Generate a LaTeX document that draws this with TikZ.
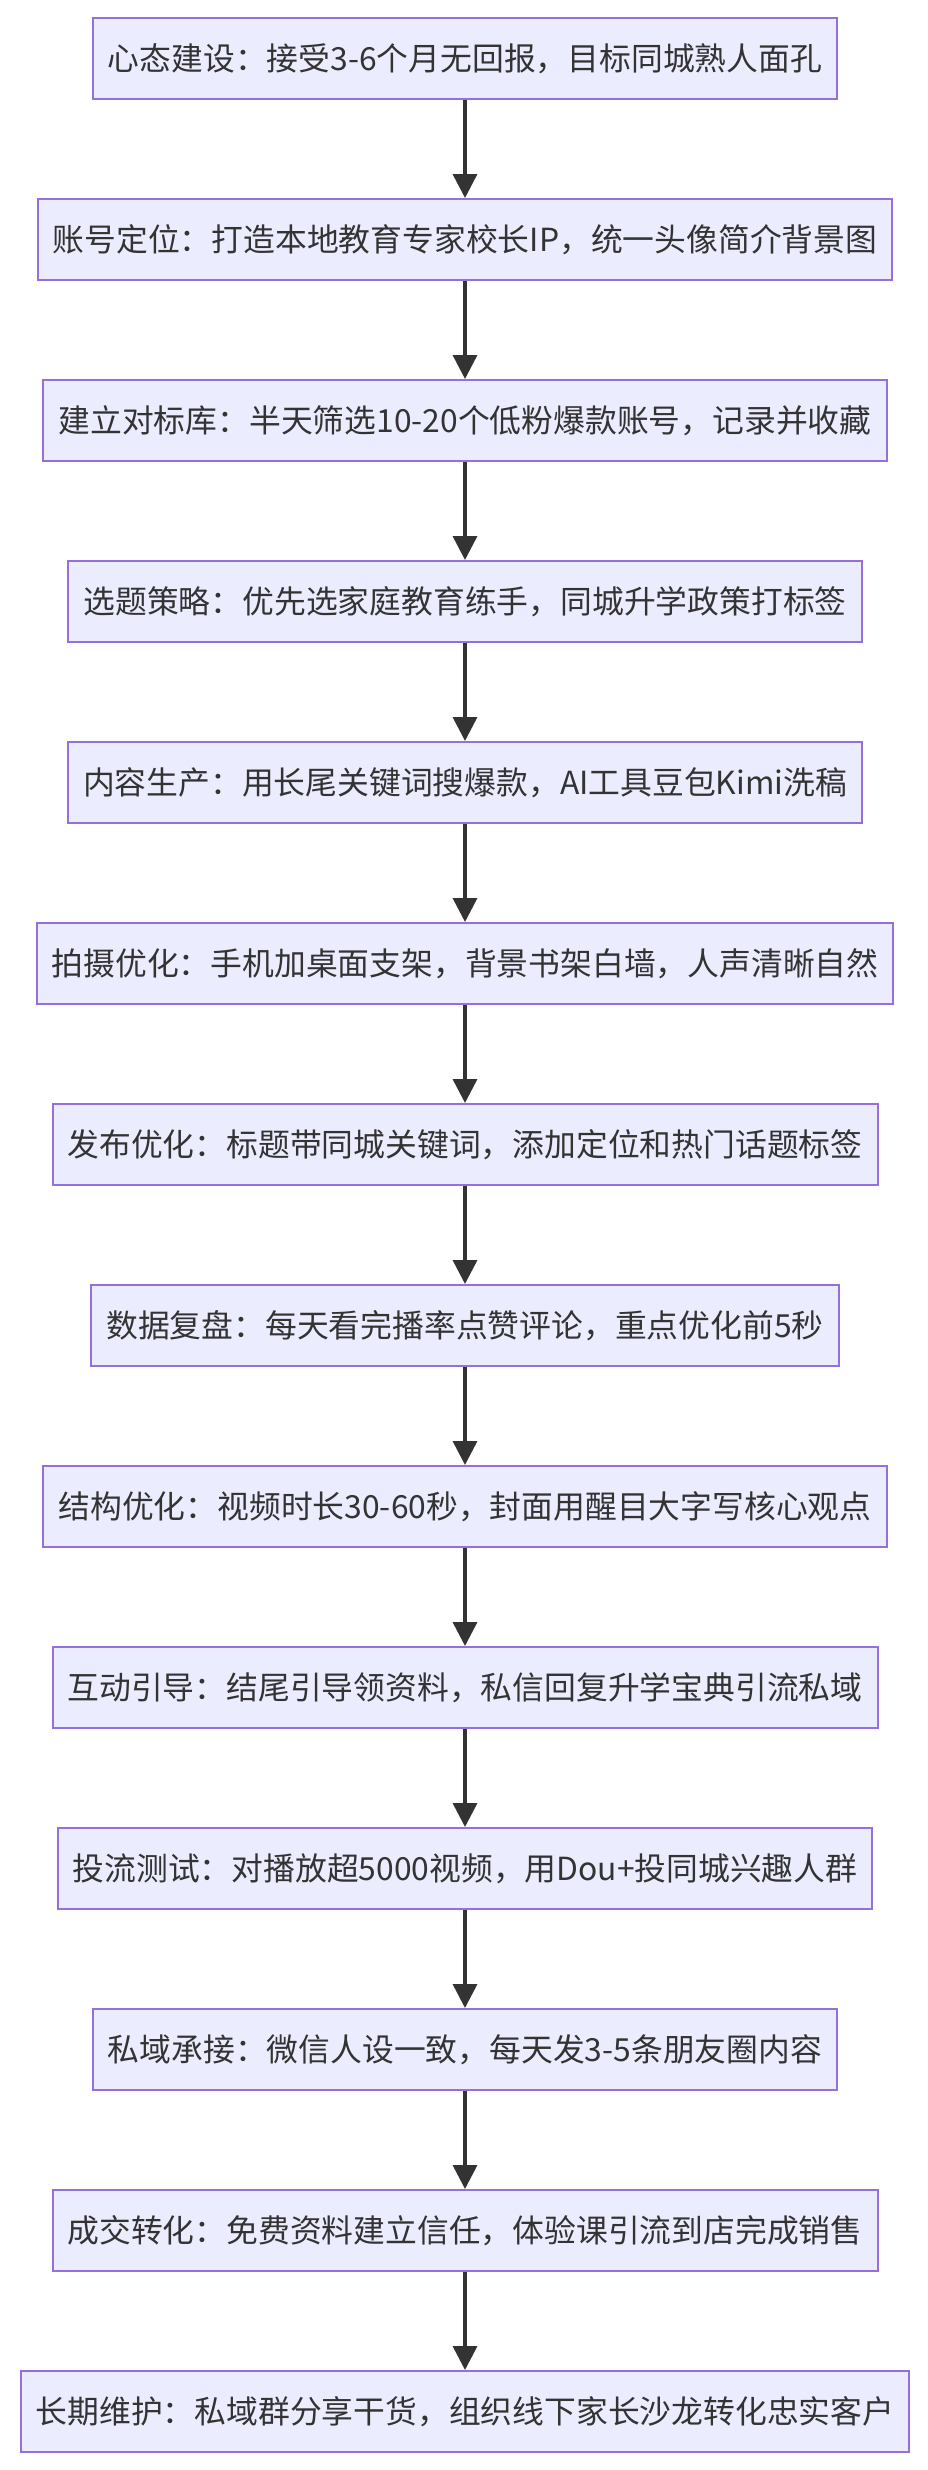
\documentclass[tikz,border=0pt]{standalone}
\usepackage{fontspec}
\newfontfamily\cjk{Noto Sans CJK SC}
\usetikzlibrary{arrows.meta}
\definecolor{boxfill}{HTML}{ECECFF}
\definecolor{boxline}{HTML}{9370DB}
\definecolor{ink}{HTML}{333333}
\tikzset{
  stepbox/.style={draw=boxline, fill=boxfill, line width=2pt, minimum height=81pt,
    inner xsep=15pt, inner ysep=0pt, text=ink, font=\cjk\fontsize{31.8}{38}\selectfont, anchor=center},
  flow/.style={draw=ink, line width=3.5pt, -{Triangle[length=24pt,width=24pt]}}
}
\begin{document}
\begin{tikzpicture}[x=1pt,y=-1pt]
\useasboundingbox[fill=white] (0,0) rectangle (928,2470);
\node[stepbox] (n1) at (465,58.5) {心态建设：接受3-6个月无回报，目标同城熟人面孔};
\node[stepbox] (n2) at (465,239.5) {账号定位：打造本地教育专家校长IP，统一头像简介背景图};
\node[stepbox] (n3) at (465,420.5) {建立对标库：半天筛选10-20个低粉爆款账号，记录并收藏};
\node[stepbox] (n4) at (465,601.5) {选题策略：优先选家庭教育练手，同城升学政策打标签};
\node[stepbox] (n5) at (465,782.5) {内容生产：用长尾关键词搜爆款，AI工具豆包Kimi洗稿};
\node[stepbox] (n6) at (465,963.5) {拍摄优化：手机加桌面支架，背景书架白墙，人声清晰自然};
\node[stepbox] (n7) at (465,1144.5) {发布优化：标题带同城关键词，添加定位和热门话题标签};
\node[stepbox] (n8) at (465,1325.5) {数据复盘：每天看完播率点赞评论，重点优化前5秒};
\node[stepbox] (n9) at (465,1506.5) {结构优化：视频时长30-60秒，封面用醒目大字写核心观点};
\node[stepbox] (n10) at (465,1687.5) {互动引导：结尾引导领资料，私信回复升学宝典引流私域};
\node[stepbox] (n11) at (465,1868.5) {投流测试：对播放超5000视频，用Dou+投同城兴趣人群};
\node[stepbox] (n12) at (465,2049.5) {私域承接：微信人设一致，每天发3-5条朋友圈内容};
\node[stepbox] (n13) at (465,2230.5) {成交转化：免费资料建立信任，体验课引流到店完成销售};
\node[stepbox] (n14) at (465,2411.5) {长期维护：私域群分享干货，组织线下家长沙龙转化忠实客户};
\foreach \a/\b in {n1/n2,n2/n3,n3/n4,n4/n5,n5/n6,n6/n7,n7/n8,n8/n9,n9/n10,n10/n11,n11/n12,n12/n13,n13/n14}
  \draw[flow] (\a.south) -- (\b.north);
\end{tikzpicture}
\end{document}
